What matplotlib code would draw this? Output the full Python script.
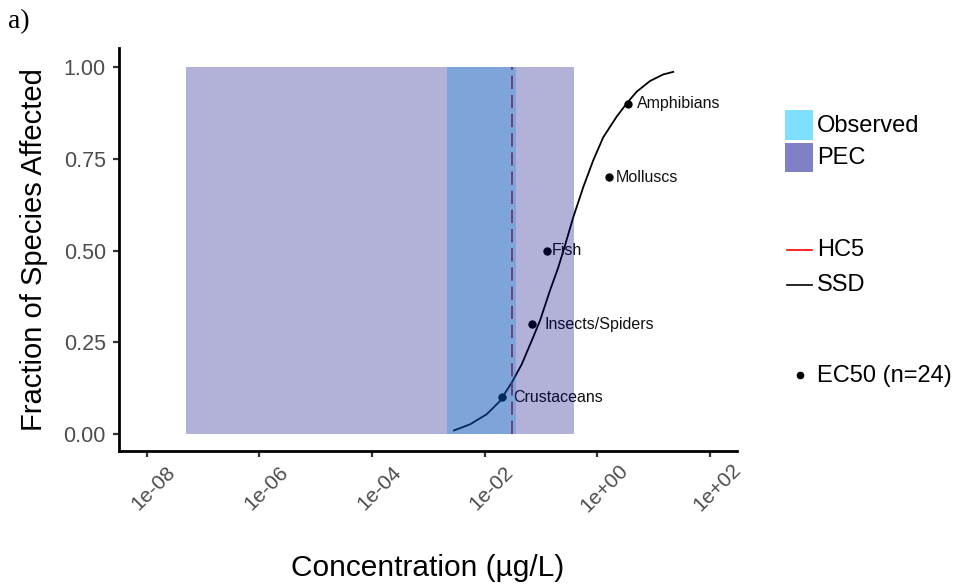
import matplotlib
matplotlib.use("Agg")
import matplotlib.pyplot as plt
from matplotlib.patches import Rectangle
from matplotlib.lines import Line2D
from matplotlib.transforms import ScaledTranslation

plt.rcParams['font.family'] = ['Liberation Sans', 'DejaVu Sans']

# data (concentrations in ug/L)
pec_range = [5.0e-08, 0.383]
obs_range = [2.11e-03, 0.0358]
hc5 = 0.030

ssd_conc = [0.00284, 0.00546, 0.0108, 0.0186, 0.0300, 0.0452, 0.0679,
            0.0955, 0.1435, 0.2014, 0.2594, 0.3724, 0.5598, 0.8414, 1.268,
            2.193, 3.296, 4.966, 8.551, 14.72, 22.13]
ssd_frac = [0.010, 0.0265, 0.054, 0.090, 0.140, 0.190, 0.254, 0.309,
            0.391, 0.454, 0.509, 0.591, 0.673, 0.746, 0.809, 0.865, 0.901,
            0.933, 0.962, 0.980, 0.987]

groups = ['Crustaceans', 'Insects/Spiders', 'Fish', 'Molluscs', 'Amphibians']
ec50_conc = [0.020, 0.0697, 0.1285, 1.60, 3.44]
ec50_frac = [0.10, 0.30, 0.50, 0.70, 0.90]
label_gap = [8, 8.5, 3, 5, 6.5]   # points from dot to label

xticks = [1e-08, 1e-06, 1e-04, 1e-02, 1e+00, 1e+02]
xtick_labels = ['1e-08', '1e-06', '1e-04', '1e-02', '1e+00', '1e+02']
yticks = [0.0, 0.25, 0.5, 0.75, 1.0]
ytick_labels = ['0.00', '0.25', '0.50', '0.75', '1.00']

W, H = 958, 587
fig = plt.figure(figsize=(W / 100, H / 100), dpi=100)
ax = fig.add_axes([119 / W, 1 - 451 / H, 618 / W, 403 / H])


def fx(px):
    return px / W


def fy(py):
    return 1 - py / H


# curve, points and HC5 sit under the translucent ranges
ax.plot(ssd_conc, ssd_frac, color='black', lw=1.3, zorder=1,
        solid_joinstyle='round')
ax.plot(ec50_conc, ec50_frac, 'o', color='black', ms=5, zorder=2)
for g, c, f, gap in zip(groups, ec50_conc, ec50_frac, label_gap):
    ax.annotate(g, (c, f), xytext=(gap, 0), textcoords='offset points',
                ha='left', va='center', fontsize=11.5, color='#111111', zorder=2)
ax.plot([hc5, hc5], [0, 1], color='red', lw=1.2, dashes=(8, 3.5), zorder=1)

ax.fill_between(pec_range, 0, 1, color='#000080', alpha=0.3, lw=0, zorder=3)
ax.fill_between(obs_range, 0, 1, color='#0688DC', alpha=0.3, lw=0, zorder=4)

ax.set_xscale('log')
ax.set_xlim(10 ** -8.49, 10 ** 2.476)
ax.set_ylim(-0.046, 1.052)
ax.set_xticks(xticks)
ax.set_xticklabels(xtick_labels, rotation=45, ha='center', va='center',
                   rotation_mode='anchor')
ax.minorticks_off()
ax.set_yticks(yticks)
ax.set_yticklabels(ytick_labels)
ax.tick_params(axis='both', length=4.5, width=1.6, color='#333333',
               labelcolor='#4D4D4D')
ax.tick_params(axis='y', labelsize=15.5, pad=5)
ax.tick_params(axis='x', labelsize=15, pad=22)
shift = ScaledTranslation(7 / 100, 0, fig.dpi_scale_trans)
for lab in ax.get_xticklabels():
    lab.set_transform(lab.get_transform() + shift)

for s in ['top', 'right']:
    ax.spines[s].set_visible(False)
for s in ['left', 'bottom']:
    ax.spines[s].set_linewidth(2.0)
    ax.spines[s].set_zorder(6)

ax.set_xlabel('Concentration (µg/L)', fontsize=21.5)
ax.set_ylabel('Fraction of Species Affected', fontsize=21)
ax.xaxis.set_label_coords(0.5, -0.256)
ax.yaxis.set_label_coords(-0.115, 0.5)

fig.text(fx(8), fy(22), 'a)', family='Liberation Serif', fontsize=20,
         ha='left', va='center')

# legend keys
fig.add_artist(Rectangle((fx(785), fy(140)), 28 / W, 30 / H,
                         transform=fig.transFigure, facecolor='#80DFFF',
                         edgecolor='none'))
fig.add_artist(Rectangle((fx(785), fy(172)), 28 / W, 29 / H,
                         transform=fig.transFigure, facecolor='#8080C6',
                         edgecolor='none'))
fig.add_artist(Line2D([fx(787), fx(812)], [fy(250), fy(250)],
                      transform=fig.transFigure, color='red', lw=1.2))
fig.add_artist(Line2D([fx(787), fx(812)], [fy(285), fy(285)],
                      transform=fig.transFigure, color='black', lw=1.2))
fig.add_artist(Line2D([fx(800)], [fy(375)], transform=fig.transFigure,
                      marker='o', ms=4.5, color='black', lw=0))
leg_items = [('Observed', 126), ('PEC', 158), ('HC5', 250), ('SSD', 285),
             ('EC50 (n=24)', 376)]
for lab, py in leg_items:
    fig.text(fx(817), fy(py), lab, fontsize=17, ha='left', va='center')

fig.savefig('out.png', dpi=100)
